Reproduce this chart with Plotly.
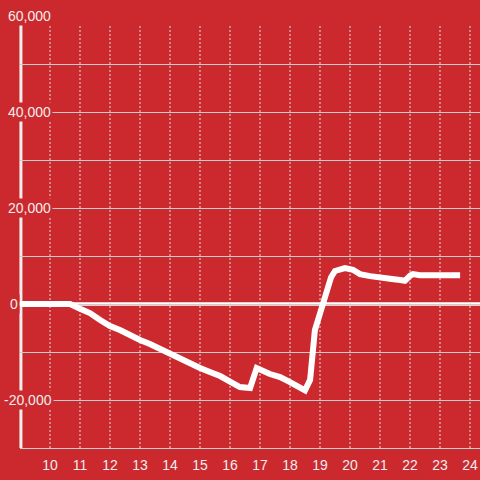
import plotly.graph_objects as go

# data (hour of day, value)
hours = [9.0, 10.67, 11.0, 11.33, 11.67, 12.0, 12.33, 12.67, 13.0, 13.33, 13.67,
         14.0, 14.33, 14.67, 15.0, 15.33, 15.67, 16.0, 16.33, 16.67, 16.89,
         17.33, 17.67, 18.0, 18.33, 18.5, 18.67, 18.83, 18.95, 19.1, 19.23,
         19.37, 19.5, 19.67, 19.83, 20.1, 20.33, 20.67, 21.0, 21.33, 21.67,
         21.83, 22.0, 22.1, 22.33, 23.67]
values = [0, 0, -980, -1875, -3330, -4580, -5420, -6600, -7500, -8330, -9370,
          -10420, -11600, -12300, -13330, -14170, -15000, -16180, -17300, -17500, -13330,
          -14580, -15200, -16250, -17500, -18000, -15800, -5400, -3000, 200, 3540,
          5600, 6900, 7300, 7500, 7150, 6250, 5830, 5400, 5270, 5000,
          4850, 5900, 6250, 6000, 6000]

x_ticks = list(range(10, 25))
y_ticks = [60000, 40000, 20000, 0, -20000]
y_labels = ["60,000", "40,000", "20,000", "0", "-20,000"]

RED = "#cc292e"
FONT = "Liberation Sans, Arial, sans-serif"

fig = go.Figure()
fig.add_trace(go.Scatter(x=hours, y=values, mode="lines",
                         line=dict(color="white", width=6), hoverinfo="skip"))

shapes = []
# vertical dotted grid
for h in x_ticks:
    shapes.append(dict(type="line", xref="x", yref="y", x0=h, x1=h, y0=-30000, y1=58333,
                       line=dict(color="#dddddd", width=1, dash="2px,2px"), layer="between"))
# zero line
shapes.append(dict(type="line", xref="paper", yref="y", x0=-0.007, x1=1, y0=0, y1=0,
                   line=dict(color="white", width=3.5), layer="between"))
# y axis line
shapes.append(dict(type="line", xref="paper", yref="y", x0=0.002, x1=0.002, y0=-30000, y1=58333,
                   line=dict(color="#eeeeee", width=3), layer="between"))

annotations = []
for v, lab in zip(y_ticks, y_labels):
    px_left = 2 if v < 0 else (8 if v == 0 else 6)
    annotations.append(dict(text=lab, xref="paper", yref="y", x=(px_left - 20) / 460, y=v,
                            xanchor="left", yanchor="middle", showarrow=False,
                            bgcolor=RED, borderpad=1,
                            font=dict(family=FONT, size=14, color="#eeeeee")))

fig.update_layout(
    width=480, height=480,
    margin=dict(l=20, r=0, t=16, b=32),
    paper_bgcolor=RED, plot_bgcolor=RED,
    showlegend=False,
    shapes=shapes,
    annotations=annotations,
    xaxis=dict(range=[9, 24 + 1 / 3], tickvals=x_ticks, showgrid=False, zeroline=False,
               showline=True, linecolor="#cccccc", linewidth=1,
               tickfont=dict(family=FONT, size=14, color="#eeeeee"),
               ticks="", ticklabelstandoff=4, fixedrange=True),
    yaxis=dict(range=[-30000, 60050], dtick=10000, showgrid=True, gridcolor="#cccccc",
               gridwidth=1, zeroline=False, showticklabels=False, fixedrange=True),
)

# page body has an 8px default margin; drop it so the figure sits at the corner
fig.write_html("out.html", config={"displayModeBar": False},
               post_script="document.body.style.margin='0';")
